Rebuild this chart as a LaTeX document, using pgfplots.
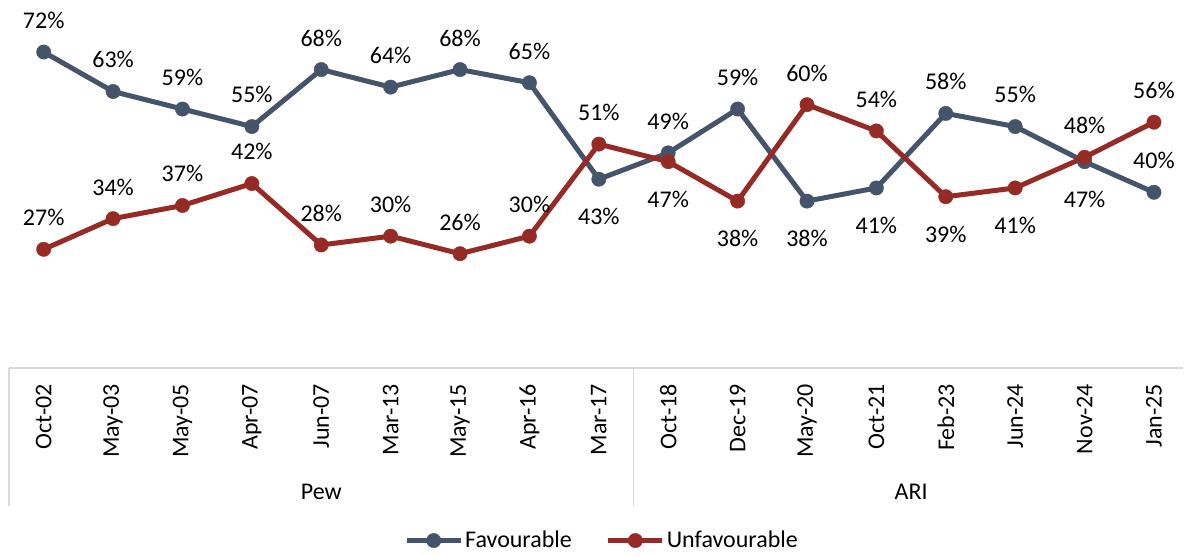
\documentclass[border=0pt]{standalone}
\usepackage{fontspec}
\setmainfont{Carlito}
\usepackage{pgfplots}
\usepackage{pgfplotstable}
\pgfplotsset{compat=1.18}
\definecolor{favc}{HTML}{44546A}
\definecolor{unfc}{HTML}{962A24}
\definecolor{gridc}{HTML}{D9D9D9}
\pgfplotstableread{
x y
0 72
1 63
2 59
3 55
4 68
5 64
6 68
7 65
8 43
9 49
10 59
11 38
12 41
13 58
14 55
15 47
16 40
}\favtab
\pgfplotstableread{
x y
0 27
1 34
2 37
3 42
4 28
5 30
6 26
7 30
8 51
9 47
10 38
11 60
12 54
13 39
14 41
15 48
16 56
}\unftab
\pgfplotsset{
  lblabove/.style={draw=none, mark=none, forget plot, nodes near coords={\pgfmathprintnumber[assume math mode=true]{\pgfplotspointmeta}\%},
     every node near coord/.append style={anchor=south, inner sep=2pt, yshift=9.5pt, text=black}},
  lblbelow/.style={draw=none, mark=none, forget plot, nodes near coords={\pgfmathprintnumber[assume math mode=true]{\pgfplotspointmeta}\%},
     every node near coord/.append style={anchor=north, inner sep=2pt, yshift=-12.5pt, text=black}},
}
\tikzset{tl/.style={rotate=90, anchor=east, inner sep=0pt}}
\begin{document}
\fontsize{12}{14.4}\selectfont
\begin{tikzpicture}
\begin{axis}[
  name=ax,
  scale only axis,
  width=587.5pt, height=175.5pt,
  xmin=-0.5, xmax=16.42, ymin=0, ymax=80,
  clip=false,
  hide axis,
  font=\fontsize{12}{14.4}\selectfont,
  legend style={at={(0.5,0)}, anchor=center, xshift=3pt, yshift=-86.5pt, draw=none, fill=none,
    legend columns=2, font=\fontsize{12}{14.4}\selectfont,
    /tikz/every even column/.append style={column sep=16pt},
    nodes={inner sep=1pt}},
  legend image code/.code={\draw[mark repeat=2,mark phase=2,#1] plot coordinates {(0pt,0pt) (13.5pt,0pt) (27pt,0pt)};},
]
\addplot[favc, line width=2.5pt, mark=*, mark size=3.6pt, mark options={fill=favc, draw=favc, line width=0.2pt}] table[x=x,y=y] {\favtab};
\addlegendentry{Favourable}
\addplot[unfc, line width=2.5pt, mark=*, mark size=3.6pt, mark options={fill=unfc, draw=unfc, line width=0.2pt}] table[x=x,y=y] {\unftab};
\addlegendentry{Unfavourable}
% data labels
\addplot[lblabove] coordinates {(0,72) (1,63) (2,59) (3,55) (4,68) (5,64) (6,68) (7,65) (9,49) (10,59) (13,58) (14,55) (16,40)};
\addplot[lblbelow] coordinates {(8,43) (11,38) (12,41) (15,47)};
\addplot[lblabove] coordinates {(0,27) (1,34) (2,37) (3,42) (4,28) (5,30) (6,26) (7,30) (8,51) (11,60) (12,54) (15,48) (16,56)};
\addplot[lblbelow] coordinates {(9,47) (10,38) (13,39) (14,41)};
% category box
\draw[gridc, line width=0.9pt] (axis cs:-0.5,0) -- (axis cs:16.42,0);
\draw[gridc, line width=0.9pt] (axis cs:-0.5,0) -- ([yshift=-69pt]axis cs:-0.5,0);
\draw[gridc, line width=0.9pt] (axis cs:8.5,0) -- ([yshift=-69pt]axis cs:8.5,0);
% tick labels
\node[tl] at ([yshift=-8pt]axis cs:0,0) {Oct-02};
\node[tl] at ([yshift=-8pt]axis cs:1,0) {May-03};
\node[tl] at ([yshift=-8pt]axis cs:2,0) {May-05};
\node[tl] at ([yshift=-8pt]axis cs:3,0) {Apr-07};
\node[tl] at ([yshift=-8pt]axis cs:4,0) {Jun-07};
\node[tl] at ([yshift=-8pt]axis cs:5,0) {Mar-13};
\node[tl] at ([yshift=-8pt]axis cs:6,0) {May-15};
\node[tl] at ([yshift=-8pt]axis cs:7,0) {Apr-16};
\node[tl] at ([yshift=-8pt]axis cs:8,0) {Mar-17};
\node[tl] at ([yshift=-8pt]axis cs:9,0) {Oct-18};
\node[tl] at ([yshift=-8pt]axis cs:10,0) {Dec-19};
\node[tl] at ([yshift=-8pt]axis cs:11,0) {May-20};
\node[tl] at ([yshift=-8pt]axis cs:12,0) {Oct-21};
\node[tl] at ([yshift=-8pt]axis cs:13,0) {Feb-23};
\node[tl] at ([yshift=-8pt]axis cs:14,0) {Jun-24};
\node[tl] at ([yshift=-8pt]axis cs:15,0) {Nov-24};
\node[tl] at ([yshift=-8pt]axis cs:16,0) {Jan-25};
\node at ([yshift=-62pt]axis cs:4,0) {Pew};
\node at ([yshift=-62pt]axis cs:12.5,0) {ARI};
\end{axis}
\path ([xshift=-4.5pt, yshift=8.5pt]ax.north west) rectangle ([yshift=-93.5pt]ax.south east);
\end{tikzpicture}
\end{document}
